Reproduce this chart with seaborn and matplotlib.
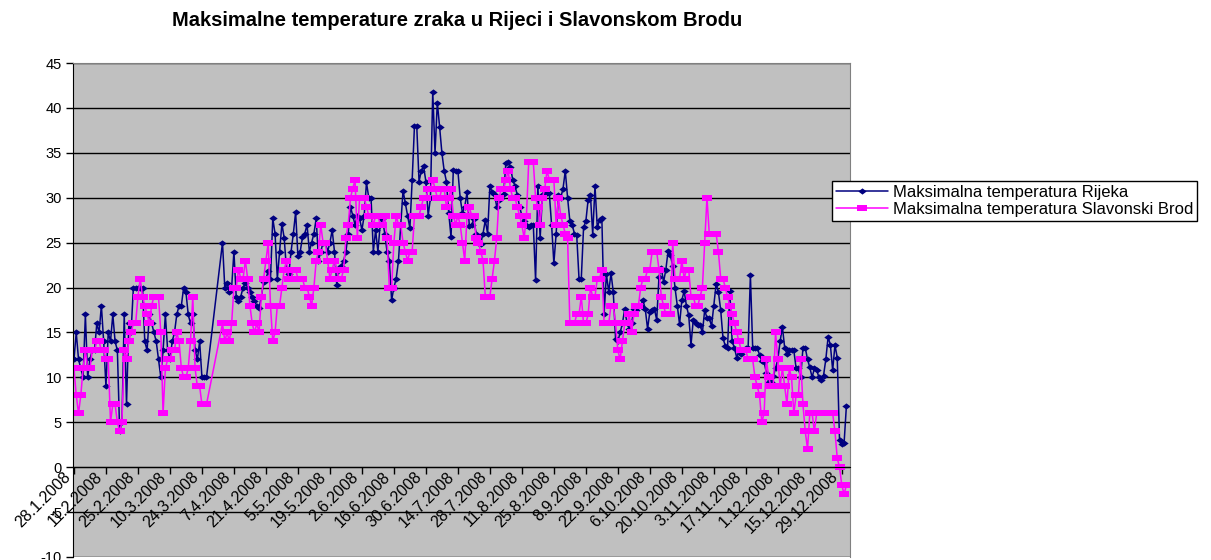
"""
Maksimalne temperature zraka - Rijeka i Slavonski Brod (2008).
Line chart with markers, Excel-like styling.
"""

import matplotlib
matplotlib.use('Agg')  # no display

import matplotlib.pyplot as plt
import matplotlib.transforms as mtransforms
import seaborn as sns
import pandas as pd

# --- data (daily max temperatures) ---
pocetak = '2008-01-28'

# Rijeka, 28.1.2008 - 31.12.2008 (None = no measurement)
rijeka = [
    12, 15, 12, 11, 10, 17, 10, 12, 13, 13,
    16, 15, 18, 14, 9, 15, 14, 17, 14, 13,
    4, 5, 17, 7, 16, 15, 20, 20, 20, 20,
    20, 14, 13, 17, 16, 15, 14, 12, 10, 13,
    17, 13, 12, 14, 15, 17, 18, 18, 20, 19.5,
    17, 16, 17, 13, 12, 14, 10, 10, 10,
    None, None, None, None, None, None,
    25, 20, 20.5, 19.5, 20,
    24, 19, 18.5, 19, 20, 20.5, 20, 19.5, 19, 18.5,
    18, 17.7, 19, 20.6, 21, 21.8, 21, 27.7, 26, 21,
    24, 27.1, 25.5, 22, 21.5, 24, 26, 28.4, 23.5, 24,
    25.6, 26, 27, 24, 25, 26, 27.7, 23, 24, 25,
    25, 24, 25, 26.4, 24, 20.3, 22, 22.4, 23, 24,
    26, 29, 28, 27, 28, 27.7, 26.4, 28, 31.7, 30,
    30, 24, 26.4, 24, 27, 27.6, 26, 24, 23, 18.6,
    20, 21, 23, 27, 30.8, 29.4, 28, 26.6, 32, 38,
    38, 31.8, 33, 33.5, 31.8, 28, 30, 41.8, 35, 40.6,
    37.9, 35, 33, 31.8, 28.3, 25.6, 33.1, 33, 33, 30,
    28.3, 29, 30.6, 26.9, 27, 27.6, 26, 25, 24.9, 26,
    27.5, 26, 31.3, 30.6, 30.4, 29, 29.8, 30, 30.4, 33.9,
    34, 33.4, 32, 31.3, 30.3, 29, 28, 27.4, 27, 26.7,
    27, 27, 20.8, 31.3, 25.5, 30.3, 30.5, 30.5, 30.5, 27,
    22.7, 26, 30.3, 30, 31, 33, 30, 27.4, 27, 26,
    25.8, 21, 21, 26.7, 27.4, 29.8, 30.3, 25.9, 31.3, 26.7,
    27.5, 27.7, 17.1, 21.5, 19.5, 21.6, 19.5, 14.3, 14, 15,
    16, 17.6, 16, 15.4, 16, 17.6, 17.5, 18, 18, 18.6,
    17.6, 15.4, 17.3, 17.5, 17.6, 16.4, 21.2, 22.2, 20.6, 22,
    24.1, 23.6, 22.4, 20, 18, 15.9, 18.6, 19.6, 18, 16.9,
    13.6, 16.4, 16, 15.8, 15.8, 15, 17.5, 16.6, 16.6, 15.7,
    18, 20.4, 19.5, 17.5, 14.4, 13.5, 13.3, 19.6, 14, 13.3,
    12.2, 13, 12.6, 13, 13.3, 13.3, 21.4, 13.3, 13.3, 13.3,
    12.5, 11.8, 11.7, 10.5, 9.5, 9.5, 10.1, 11, 12, 14,
    15.6, 13.3, 12.6, 13, 13, 13, 11, 11, 10, 13.3,
    13.3, 12, 11.1, 10, 11, 10.8, 10, 9.7, 10.2, 12,
    14.5, 13.6, 10.8, 13.6, 12.2, 3, 2.6, 2.7, 6.8,
]

# Slavonski Brod, same days
slavonski_brod = [
    11, 8, 6, 8, 11, 13, 11, 11, 13, 13,
    14, 14, 13, 13, 12, 12, 5, 7, 7, 5,
    4, 5, 13, 12, 14, 15, 16, 16, 19, 21,
    19, 18, 17, 16, 18, 19, 19, 19, 15, 6,
    11, 12, 12, 13, 13, 15, 14, 11, 10, 10,
    11, 14, 19, 11, 9, 9, 7, 7, 7,
    None, None, None, None, None, None,
    16, 14, 15, 14, 16,
    20, 20, 22, 21, 21, 23, 21, 18, 16, 15,
    16, 15, 19, 21, 23, 25, 18, 14, 15, 18,
    18, 20, 22, 23, 21, 21, 22, 22, 21, 21,
    21, 20, 20, 19, 18, 20, 23, 24, 27, 25,
    25, 23, 21, 22, 23, 22, 21, 21, 22, 25.5,
    27, 30, 31, 32, 25.5, 30, 30, 30, 29, 28,
    28, 27, 28, 28, 27, 27, 28, 25.5, 20, 20,
    25, 28, 27, 27, 25, 24, 23, 24, 24, 28,
    28, 28, 29, 30, 30, 31, 31, 32, 31, 30,
    30, 31, 31, 29, 30, 31, 28, 27, 28, 27,
    25, 23, 28, 29, 28, 28, 25.5, 25, 24, 23,
    19, 19, 19, 21, 23, 25.5, 30, 31, 31, 32,
    33, 31, 30, 30, 29, 28, 27, 25.5, 28, 34,
    34, 34, 30, 29, 27, 30, 31, 33, 32, 32,
    32, 27, 30, 28, 27, 26, 25.5, 16, 16, 16,
    17, 17, 19, 16, 16, 17, 20, 19, 19, 21,
    21, 22, 16, 16, 16, 18, 18, 16, 13, 12,
    14, 16, 16, 17, 15, 17, 18, 18, 20, 21,
    21, 22, 22, 24, 24, 24, 22, 19, 18, 17,
    17, 17, 25, 21, 21, 21, 23, 21, 22, 22,
    19, 19, 18, 18, 19, 20, 25, 30, 26, 26,
    26, 26, 24, 21, 21, 20, 19, 18, 17, 16,
    15, 14, 13, 13, 13, 12, 12, 12, 10, 9,
    8, 5, 6, 12, 10, 9, 9, 15, 12, 9,
    11, 9, 7, 11, 10, 6, 8, 8, 12, 7,
    4, 2, 6, 6, 4, 6, 6, 6, 6, 6,
    6, 6, 6, 4, 1, 0, -2, -3, -2,
]

naslov = 'Maksimalne temperature zraka u Rijeci i Slavonskom Brodu'
oznaka_rijeka = 'Maksimalna temperatura Rijeka'
oznaka_brod = 'Maksimalna temperatura Slavonski Brod'
y_ticks = list(range(-10, 50, 5))

# --- style ---
sns.set_style('white')
plt.rcParams['font.family'] = ['Liberation Sans', 'DejaVu Sans']
plt.rcParams['axes.unicode_minus'] = False
plt.rcParams['text.color'] = 'black'
plt.rcParams['xtick.color'] = 'black'
plt.rcParams['ytick.color'] = 'black'

datumi = pd.date_range(pocetak, periods=len(rijeka), freq='D')
df = pd.DataFrame({'datum': datumi, 'Rijeka': rijeka, 'Brod': slavonski_brod})

W, H = 1211, 560
fig = plt.figure(figsize=(W / 100, H / 100), dpi=100, facecolor='white')
ax = fig.add_axes([73 / W, 3 / H, (850 - 73) / W, (557 - 63) / H])
ax.set_facecolor('#C0C0C0')

# Excel-ish markers (a bit wider than tall)
diamond = [(-1, 0), (0, 0.75), (1, 0), (0, -0.75)]
rect = [(-1, -0.7), (1, -0.7), (1, 0.7), (-1, 0.7)]

sns.lineplot(data=df.dropna(subset=['Rijeka']), x='datum', y='Rijeka', ax=ax,
             estimator=None, color='#000080', linewidth=1.1,
             marker=diamond, markersize=6, markeredgewidth=0,
             markerfacecolor='#000080', label=oznaka_rijeka)
sns.lineplot(data=df.dropna(subset=['Brod']), x='datum', y='Brod', ax=ax,
             estimator=None, color='#FF00FF', linewidth=1.1,
             marker=rect, markersize=6.5, markeredgewidth=0,
             markerfacecolor='#FF00FF', label=oznaka_brod)

# spines first: set_position resets the ticks
ax.spines['bottom'].set_position(('data', 0))
ax.spines['bottom'].set_color('black')
ax.spines['left'].set_color('black')
ax.spines['top'].set_color('#808080')
ax.spines['right'].set_color('#808080')

# axes limits / ticks
x0 = datumi[0] - pd.Timedelta(hours=10)
ax.set_xlim(x0, x0 + pd.Timedelta(days=340))
ax.set_ylim(-10, 45)
ax.set_yticks(y_ticks)
ax.set_yticklabels([str(v) for v in y_ticks], fontsize=10.5, color='black')

tick_dates = datumi[::14]
ax.set_xticks(tick_dates)
ax.set_xticklabels([f'{d.day}.{d.month}.{d.year}' for d in tick_dates],
                   fontsize=11.5, color='black')
ax.tick_params(axis='y', direction='out', length=5, width=1, color='black', pad=3)
ax.tick_params(axis='x', direction='out', length=5, width=1, color='black',
               pad=1, labelrotation=45)
ax.tick_params(left=True, bottom=True)
shift = mtransforms.ScaledTranslation(-6 / 100, 1 / 100, fig.dpi_scale_trans)
for lbl in ax.get_xticklabels():
    lbl.set_ha('right')
    lbl.set_va('center')
    lbl.set_rotation_mode('anchor')
    lbl.set_transform(lbl.get_transform() + shift)

ax.yaxis.grid(True, color='black', linewidth=1)
ax.set_axisbelow(True)
ax.set_xlabel('')
ax.set_ylabel('')

# legend outside the plot area
handles, labels = ax.get_legend_handles_labels()
ax.get_legend().remove()
leg = fig.legend(handles, labels, loc='upper left',
                 bbox_to_anchor=(832 / W, 1 - 181 / H), fontsize=12,
                 frameon=True, fancybox=False, framealpha=1, edgecolor='black',
                 handlelength=3.1, borderpad=0.25, labelspacing=0.12,
                 handletextpad=0.3, borderaxespad=0)
leg.get_frame().set_linewidth(1)
for t in leg.get_texts():
    t.set_color('black')

fig.text(457 / W, 1 - 20 / H, naslov, ha='center', va='center',
         fontsize=14.5, fontweight='bold', color='black')

fig.savefig('out.png', dpi=100, facecolor='white')
